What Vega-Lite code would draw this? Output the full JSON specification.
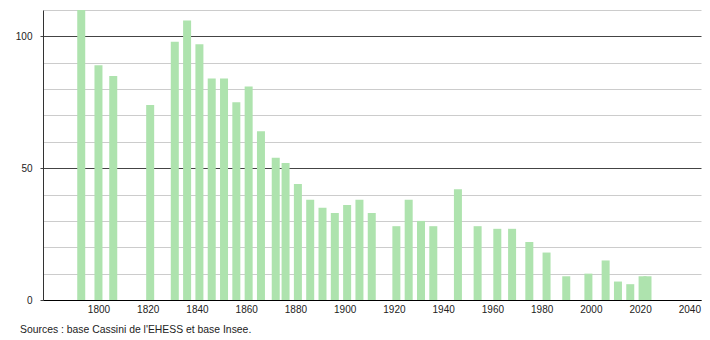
{
  "$schema": "https://vega.github.io/schema/vega-lite/v6.json",
  "width": 658,
  "height": 290,
  "autosize": "none",
  "padding": {"left": 43, "top": 10, "right": 9, "bottom": 40},
  "background": "white",
  "config": {"view": {"stroke": null}, "font": "Liberation Sans"},
  "title": {
    "text": "Sources : base Cassini de l'EHESS et base Insee.",
    "orient": "bottom",
    "anchor": "start",
    "frame": "group",
    "dx": -23,
    "offset": 11,
    "fontSize": 10.4,
    "fontWeight": "normal",
    "color": "#222"
  },
  "data": {
    "values": [
      {"annee": 1793, "population": 113},
      {"annee": 1800, "population": 89},
      {"annee": 1806, "population": 85},
      {"annee": 1821, "population": 74},
      {"annee": 1831, "population": 98},
      {"annee": 1836, "population": 106},
      {"annee": 1841, "population": 97},
      {"annee": 1846, "population": 84},
      {"annee": 1851, "population": 84},
      {"annee": 1856, "population": 75},
      {"annee": 1861, "population": 81},
      {"annee": 1866, "population": 64},
      {"annee": 1872, "population": 54},
      {"annee": 1876, "population": 52},
      {"annee": 1881, "population": 44},
      {"annee": 1886, "population": 38},
      {"annee": 1891, "population": 35},
      {"annee": 1896, "population": 33},
      {"annee": 1901, "population": 36},
      {"annee": 1906, "population": 38},
      {"annee": 1911, "population": 33},
      {"annee": 1921, "population": 28},
      {"annee": 1926, "population": 38},
      {"annee": 1931, "population": 30},
      {"annee": 1936, "population": 28},
      {"annee": 1946, "population": 42},
      {"annee": 1954, "population": 28},
      {"annee": 1962, "population": 27},
      {"annee": 1968, "population": 27},
      {"annee": 1975, "population": 22},
      {"annee": 1982, "population": 18},
      {"annee": 1990, "population": 9},
      {"annee": 1999, "population": 10},
      {"annee": 2006, "population": 15},
      {"annee": 2011, "population": 7},
      {"annee": 2016, "population": 6},
      {"annee": 2021, "population": 9},
      {"annee": 2023, "population": 9}
    ]
  },
  "mark": {"type": "bar", "size": 8, "color": "#aee3ae", "clip": true},
  "encoding": {
    "x": {
      "field": "annee",
      "type": "quantitative",
      "scale": {"domain": [1779.5, 2042.7], "nice": false, "zero": false},
      "axis": {
        "title": null,
        "values": [1800, 1820, 1840, 1860, 1880, 1900, 1920, 1940, 1960, 1980, 2000, 2020, 2040],
        "format": "d",
        "grid": false,
        "ticks": false,
        "domainColor": "#000",
        "domainWidth": 1,
        "labelFontSize": 10,
        "labelColor": "#222",
        "labelPadding": 4,
        "labelFlush": false
      }
    },
    "y": {
      "field": "population",
      "type": "quantitative",
      "scale": {"domain": [0, 110], "nice": false},
      "axis": {
        "title": null,
        "values": [0, 10, 20, 30, 40, 50, 60, 70, 80, 90, 100, 110],
        "labelExpr": "datum.value % 50 === 0 ? datum.label : ''",
        "grid": true,
        "gridColor": {"condition": {"test": "datum.value % 50 === 0", "value": "#444"}, "value": "#cccccc"},
        "gridWidth": 1,
        "tickSize": 3,
        "tickColor": {"condition": {"test": "datum.value % 50 === 0", "value": "#444"}, "value": "transparent"},
        "domainColor": "#333",
        "labelFontSize": 10,
        "labelColor": "#222",
        "labelPadding": 8
      }
    }
  }
}
